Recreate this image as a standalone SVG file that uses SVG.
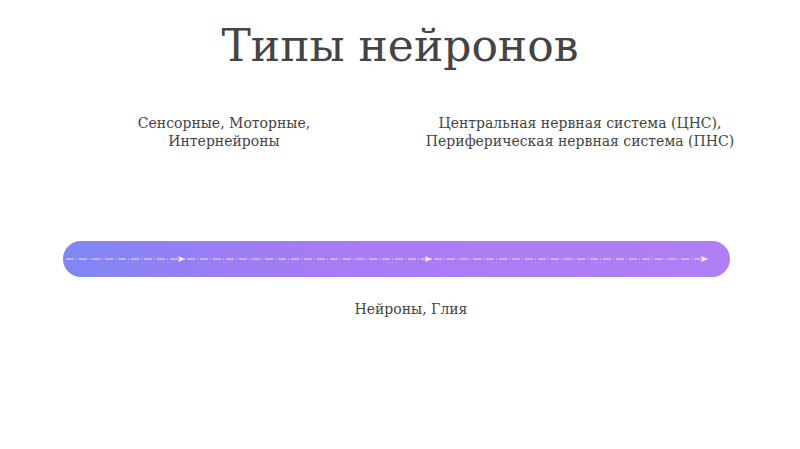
<svg xmlns="http://www.w3.org/2000/svg" width="800" height="449" viewBox="0 0 800 449">
<defs>
<linearGradient id="bar" x1="63" y1="0" x2="730" y2="0" gradientUnits="userSpaceOnUse">
<stop offset="0" stop-color="#7d87f6"/>
<stop offset="0.22" stop-color="#9a7ef5"/>
<stop offset="0.45" stop-color="#a97bf4"/>
<stop offset="1" stop-color="#b07ef4"/>
</linearGradient>
<marker id="arr" viewBox="0 0 10 10" refX="9" refY="5" markerWidth="8" markerHeight="8" markerUnits="userSpaceOnUse" orient="auto">
<path d="M0,1 L9,5 L0,9 L2,5 Z" fill="#f4eefe"/>
</marker>
<style>
.t{font-family:"DejaVu Serif","Liberation Serif",serif;fill:#444;text-anchor:middle}
.lbl{font-size:14px}
.edge{stroke:#efe7fd;stroke-width:1.2;fill:none;stroke-dasharray:8 2 1 2;marker-end:url(#arr)}
</style>
</defs>
<rect width="800" height="449" fill="#fff"/>
<text class="t" x="400" y="61" font-size="44">Типы нейронов</text>
<g id="bar-node">
<rect x="63" y="241" width="667" height="36" rx="18" fill="url(#bar)"/>
</g>
<g id="connectors">
<path class="edge" d="M66,259 H185"/>
<path class="edge" d="M187,259 H432"/>
<path class="edge" d="M434,259 H708"/>
</g>
<g id="node-types">
<text class="t lbl" x="224" y="128">Сенсорные, Моторные,</text>
<text class="t lbl" x="224" y="146">Интернейроны</text>
</g>
<g id="node-systems">
<text class="t lbl" x="580" y="128">Центральная нервная система (ЦНС),</text>
<text class="t lbl" x="580" y="146">Периферическая нервная система (ПНС)</text>
</g>
<g id="node-cells">
<text class="t lbl" x="411" y="314">Нейроны, Глия</text>
</g>
</svg>
